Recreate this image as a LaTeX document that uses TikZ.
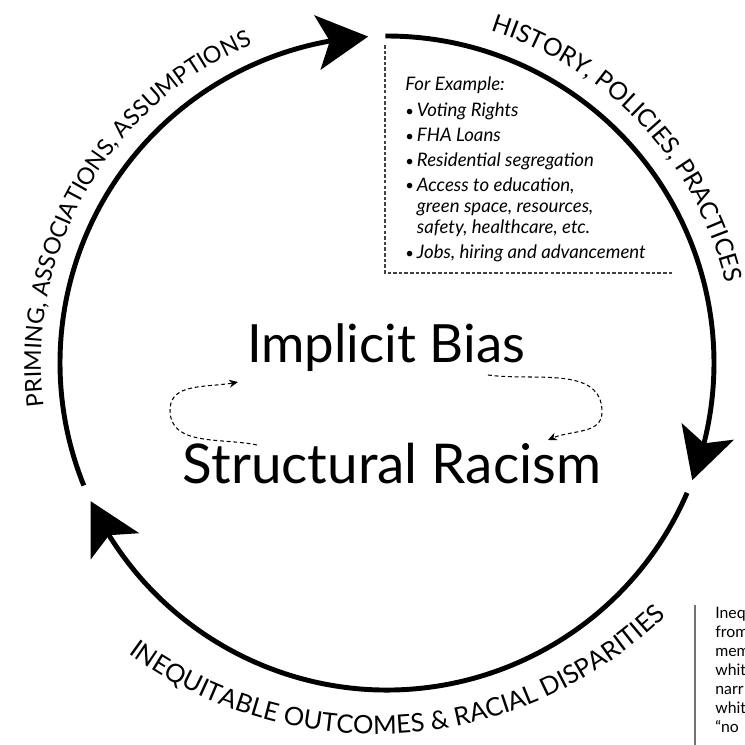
\documentclass[tikz,border=0pt]{standalone}
\usepackage{fontspec}
\setmainfont{Lato}
\usetikzlibrary{arrows.meta,bending,decorations.text}

\newcommand{\arcfont}{\fontsize{14}{14}\selectfont}
\newcommand{\leftarcfont}{\fontsize{13.2}{14}\selectfont}
\newcommand{\lowarcfont}{\fontsize{14.5}{14}\selectfont}
\newcommand{\smallbullet}{\raisebox{0.4pt}{\scalebox{0.8}{\textbullet}}}

\begin{document}
\begin{tikzpicture}[x=0.02cm,y=0.02cm,
    ring/.style={line width=2.8pt,
      -{Stealth[length=29pt,width=31pt,inset=7pt]}},
    looparrow/.style={line width=0.6pt,dash pattern=on 2.2pt off 1.6pt,
      -{Stealth[length=5pt,width=4.5pt]}},
    bigword/.style={font=\fontsize{30}{30}\selectfont,anchor=base,inner sep=0pt},
    arclabel/.style={decorate,decoration={text along path,text align=center,text={#1}}},
    exframe/.style={line width=0.6pt,draw=black!75,dash pattern=on 2pt off 1.2pt}]

  \useasboundingbox (0,0) rectangle (745,745);
  \clip (0,0) rectangle (745,745);
  \coordinate (c) at (387,382);

  \begin{scope}[shift={(c)}]
    \draw[ring] (202:327) arc[start angle=202,end angle=93.3,radius=327];
    \draw[ring] (90.3:327) arc[start angle=90.3,end angle=-21,radius=327];
    \draw[ring] (-23.4:327) arc[start angle=-23.4,end angle=-155,radius=327];

    \path[arclabel={|\arcfont|HISTORY, POLICIES, PRACTICES}]
      (90:348) arc[start angle=90,end angle=-4,radius=348];
    \path[arclabel={|\leftarcfont|PRIMING, ASSOCIATIONS, ASSUMPTIONS}]
      (210:346) arc[start angle=210,end angle=90,radius=346];
  \end{scope}

  \path[shift={(375,428)},arclabel={|\lowarcfont|INEQUITABLE OUTCOMES {\&} RACIAL DISPARITIES}]
    (-150:417) arc[start angle=-150,end angle=-22,radius=417];

  \node[bigword] (bias) at (386,382) {Implicit Bias};
  \node[bigword,font=\fontsize{31.2}{31}\selectfont] (racism) at (392,261) {Structural Racism};

  \coordinate (l1) at (257,300);
  \coordinate (l2) at (170,335);
  \coordinate (l3) at (238,363);
  \coordinate (r1) at (488,370);
  \coordinate (r2) at (602,333);
  \coordinate (r3) at (548,305);
  \draw[looparrow] (l1) to[out=168,in=-90] (l2) to[out=90,in=193] (l3);
  \draw[looparrow] (r1) to[out=-8,in=90] (r2) to[out=-90,in=28] (r3);

  \draw[exframe] (385,700) -- (385,472) -- (673,472);
  \node[anchor=base west,inner sep=0pt,font=\fontsize{10.6}{12}\selectfont\itshape] (examples) at (405,654)
    {\begin{tabular}[t]{@{}p{6.6pt}@{}l@{}}
      \multicolumn{2}{@{}l@{}}{For Example:}\\[2.7pt]
      \smallbullet & Voting Rights\\[2.2pt]
      \smallbullet & FHA Loans\\[2.2pt]
      \smallbullet & Residential segregation\\[2.2pt]
      \smallbullet & Access to education,\\
                   & green space, resources,\\
                   & safety, healthcare, etc.\\[2.2pt]
      \smallbullet & Jobs, hiring and advancement
    \end{tabular}};

  \draw[line width=0.8pt,draw=black!55] (695,140) -- (695,0);
  \node[anchor=base west,inner sep=0pt,font=\fontsize{9}{9.4}\selectfont] (note) at (715,126)
    {\begin{tabular}[t]{@{}l@{}}
      Ineq\\[1.3pt] from\\[1.3pt] mem\\[1.3pt] whit\\[1.3pt] narr\\[1.3pt] whit\\[1.3pt] ``no
    \end{tabular}};

\end{tikzpicture}
\end{document}
